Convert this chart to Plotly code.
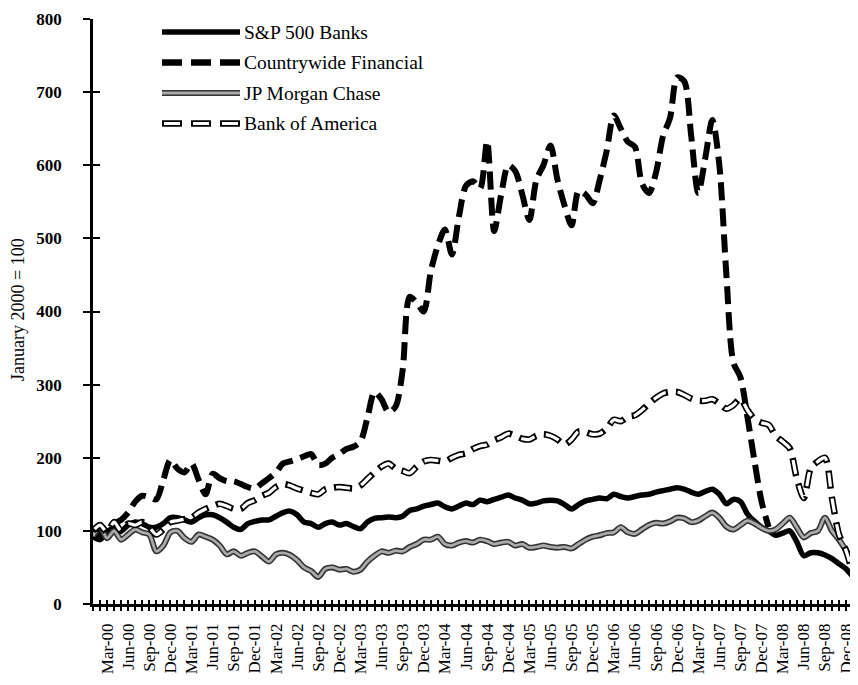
import plotly.graph_objects as go

# Months Jan-2000 .. Jan-2009 (index 0..108)
month_index = list(range(109))

tick_positions = list(range(2, 108, 3))  # Mar-00 .. Dec-08
tick_labels = [
    "Mar-00", "Jun-00", "Sep-00", "Dec-00",
    "Mar-01", "Jun-01", "Sep-01", "Dec-01",
    "Mar-02", "Jun-02", "Sep-02", "Dec-02",
    "Mar-03", "Jun-03", "Sep-03", "Dec-03",
    "Mar-04", "Jun-04", "Sep-04", "Dec-04",
    "Mar-05", "Jun-05", "Sep-05", "Dec-05",
    "Mar-06", "Jun-06", "Sep-06", "Dec-06",
    "Mar-07", "Jun-07", "Sep-07", "Dec-07",
    "Mar-08", "Jun-08", "Sep-08", "Dec-08",
]

sp500_banks = [
    92, 88, 98, 105, 100, 108, 112, 110, 105, 105, 110, 118,
    118, 115, 112, 118, 122, 122, 118, 112, 105, 102, 110, 113,
    115, 115, 120, 125, 127, 122, 112, 110, 105, 110, 112, 108,
    110, 106, 103, 112, 117, 118, 119, 118, 120, 128, 130, 134,
    136, 138, 133, 130, 134, 138, 136, 142, 140, 143, 146, 149,
    145, 142, 137, 138, 141, 142, 141, 136, 130, 136, 141, 143,
    145, 144, 150, 147, 145, 147, 149, 150, 153, 155, 157, 159,
    157, 153, 150, 154, 157, 150, 137, 143, 140, 123, 113, 105,
    100, 94, 97, 100, 85, 66, 70, 70, 67, 62, 55, 48,
    37,
]

countrywide = [
    100, 95, 100, 110, 115, 125, 140, 148, 146, 143, 170, 197,
    185, 180, 192, 170, 150, 178, 172, 168, 168, 164, 160, 158,
    165, 172, 180, 192, 195, 198, 202, 205, 190, 192, 200, 205,
    212, 215, 222, 255, 290, 280, 262, 270, 320, 420, 412, 400,
    455, 490, 512, 478, 530, 572, 578, 568, 633, 510, 560, 600,
    592, 560, 525, 580, 600, 627, 580, 545, 518, 565, 560, 548,
    580, 620, 668, 650, 632, 625, 575, 562, 590, 640, 665, 720,
    715, 640, 562, 610, 662, 600, 450, 330, 310, 255, 195, 140,
    105, None, None, None, None, None, None, None, None, None, None, None,
    None,
]

jp_morgan = [
    93, 105, 90, 100, 88, 95, 102, 98, 95, 72, 80, 98,
    100, 90, 85, 95, 92, 88, 80, 68, 72, 66, 70, 72,
    65, 58, 68, 70, 67, 60, 50, 45, 37, 48, 50, 47,
    48, 44, 47, 58, 66, 72, 70, 73, 72, 78, 82, 88,
    88, 92, 82, 80, 84, 86, 84, 88, 86, 82, 84, 85,
    80, 82, 77, 78, 80, 78, 77, 78, 76, 82, 88, 92,
    94, 97, 98, 105, 98, 96, 102, 108, 111, 110, 113, 118,
    117, 112, 114, 120, 125, 118, 106, 102, 108, 114, 110, 104,
    100, 102, 110, 118, 105, 91, 97, 100, 118, 100, 88, 73,
    55,
]

bank_of_america = [
    100, 108, 98, 112, 100, 110, 108, 112, 105, 95, 102, 112,
    114, 116, 118, 125, 130, 134, 137, 134, 130, 130, 138, 142,
    148, 152, 160, 164, 162, 158, 155, 152, 150, 157, 159, 160,
    159, 158, 162, 171, 180, 188, 192, 185, 182, 179, 188, 195,
    197, 196, 195, 200, 204, 206, 212, 216, 218, 224, 228, 233,
    230, 226, 225, 230, 232, 230, 225, 218, 225, 236, 235, 232,
    233, 240, 252, 250, 256, 258, 265, 274, 282, 288, 290, 290,
    286, 281, 278, 278, 280, 274, 267, 272, 281, 265, 253, 248,
    245, 230, 222, 213, 172, 145, 186, 195, 200, 145, 95, 73,
    40,
]

series_names = ["S&P 500 Banks", "Countrywide Financial", "JP Morgan Chase", "Bank of America"]

DASH = "18px,8px"
DASH_IN = "0px,2px,14px,10px"
FONT = "Liberation Serif"
SHAPE = "spline"

fig = go.Figure()

fig.add_trace(go.Scatter(x=month_index, y=sp500_banks, mode="lines",
                         line=dict(color="black", width=5.5, shape=SHAPE, smoothing=0.8),
                         name=series_names[0], showlegend=False))
fig.add_trace(go.Scatter(x=month_index, y=countrywide, mode="lines",
                         line=dict(color="black", width=6, dash=DASH, shape=SHAPE, smoothing=0.8),
                         name=series_names[1], showlegend=False, connectgaps=False))
fig.add_trace(go.Scatter(x=month_index, y=jp_morgan, mode="lines",
                         line=dict(color="#333333", width=6, shape=SHAPE, smoothing=0.8),
                         name=series_names[2], showlegend=False))
fig.add_trace(go.Scatter(x=month_index, y=jp_morgan, mode="lines",
                         line=dict(color="#aaaaaa", width=2.8, shape=SHAPE, smoothing=0.8),
                         name=series_names[2], showlegend=False, hoverinfo="skip"))
fig.add_trace(go.Scatter(x=month_index, y=bank_of_america, mode="lines",
                         line=dict(color="black", width=6.5, dash=DASH, shape=SHAPE, smoothing=0.8),
                         name=series_names[3], showlegend=False))
fig.add_trace(go.Scatter(x=month_index, y=bank_of_america, mode="lines",
                         line=dict(color="white", width=3.2, dash=DASH_IN, shape=SHAPE, smoothing=0.8),
                         name=series_names[3], showlegend=False, hoverinfo="skip"))

# dummy trace to activate overlay axes (crossing ticks)
fig.add_trace(go.Scatter(x=[None], y=[None], xaxis="x2", yaxis="y2", showlegend=False))

all_ticks = month_index
all_text = [""] * len(month_index)
for p, t in zip(tick_positions, tick_labels):
    all_text[p] = t

XR = [0, 108.7]
TOP = 11
fig.update_layout(
    width=850, height=677,
    margin=dict(l=85, r=0, t=TOP, b=81, autoexpand=False),
    paper_bgcolor="white", plot_bgcolor="white",
    font=dict(family=FONT, color="black"),
    xaxis=dict(range=XR, tickmode="array", tickvals=all_ticks, ticktext=all_text,
               tickangle=-90, ticks="outside", ticklen=4, tickwidth=1.5, tickcolor="black",
               showline=True, linecolor="black", linewidth=2.5, showgrid=False, zeroline=False,
               tickfont=dict(family=FONT, size=17, color="black"), ticklabelstandoff=6,
               automargin=False, ticklabeloverflow="allow"),
    xaxis2=dict(range=XR, overlaying="x", anchor="y", tickmode="array", tickvals=all_ticks,
                ticks="inside", ticklen=4, tickwidth=1.5, tickcolor="black",
                showticklabels=False, showline=False, showgrid=False, zeroline=False),
    yaxis=dict(range=[0, 800], tickmode="array", tickvals=list(range(0, 801, 100)),
               ticks="outside", ticklen=7, tickwidth=2, tickcolor="black",
               showline=True, linecolor="black", linewidth=2.5, showgrid=False, zeroline=False,
               tickfont=dict(family=FONT, size=17, color="black", weight="bold"),
               ticklabelstandoff=18, automargin=False, ticklabeloverflow="allow"),
    yaxis2=dict(range=[0, 800], overlaying="y", anchor="x", side="left", tickmode="array",
                tickvals=list(range(0, 801, 100)), ticks="inside", ticklen=7, tickwidth=2,
                tickcolor="black", showticklabels=False, showline=False, showgrid=False,
                zeroline=False),
    showlegend=False,
)

# manual legend (page-pixel helpers relative to plot area)
W = 765.0
TOP_PAGE = 8 + TOP
H = 604.0 - TOP_PAGE
def px(xp):
    return (xp - 93) / W
def py(yp):
    return (604 - yp) / H

# y-axis title
fig.add_annotation(text="January 2000 = 100", xref="paper", yref="paper",
                   x=px(18), y=py(310), xanchor="center", yanchor="middle",
                   textangle=-90, showarrow=False,
                   font=dict(family=FONT, size=18, color="black"))

rows = [32, 62.5, 93, 123.5]
x0, x1 = px(162), px(240)
fig.add_shape(type="line", xref="paper", yref="paper", x0=x0, x1=x1, y0=py(rows[0]), y1=py(rows[0]),
              line=dict(color="black", width=5.5))
fig.add_shape(type="line", xref="paper", yref="paper", x0=x0, x1=x1, y0=py(rows[1]), y1=py(rows[1]),
              line=dict(color="black", width=6.5, dash="20px,9px"))
fig.add_shape(type="line", xref="paper", yref="paper", x0=x0, x1=x1, y0=py(rows[2]), y1=py(rows[2]),
              line=dict(color="#333333", width=6))
fig.add_shape(type="line", xref="paper", yref="paper", x0=x0, x1=x1, y0=py(rows[2]), y1=py(rows[2]),
              line=dict(color="#aaaaaa", width=2.8))
fig.add_shape(type="line", xref="paper", yref="paper", x0=x0, x1=x1, y0=py(rows[3]), y1=py(rows[3]),
              line=dict(color="black", width=6.5, dash="20px,9px"))
fig.add_shape(type="line", xref="paper", yref="paper", x0=x0, x1=x1, y0=py(rows[3]), y1=py(rows[3]),
              line=dict(color="white", width=3.2, dash="0px,2px,16px,11px"))

for name, r in zip(series_names, rows):
    fig.add_annotation(text=name, xref="paper", yref="paper", x=px(242), y=py(r),
                       xanchor="left", yanchor="middle", showarrow=False,
                       font=dict(family=FONT, size=19.5, color="black"))

fig.write_html("out.html")
